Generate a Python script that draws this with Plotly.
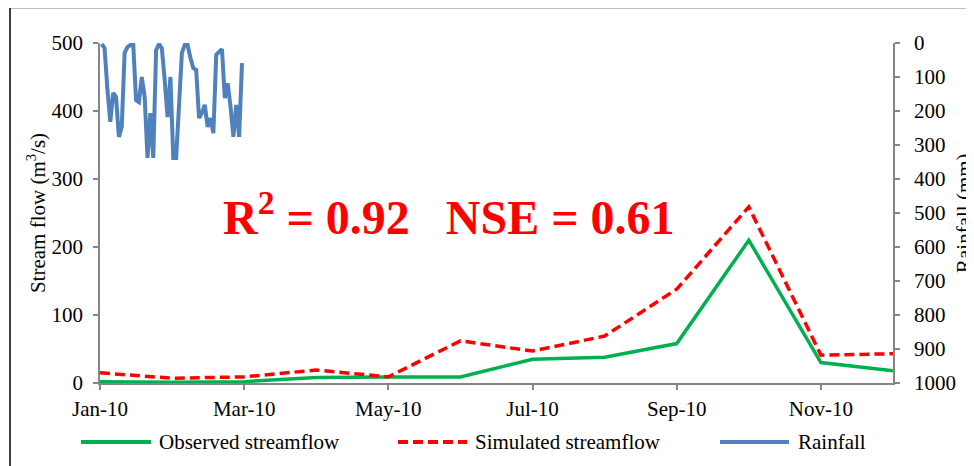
import plotly.graph_objects as go

# ---------------- data ----------------
months = ["Jan-10", "Feb-10", "Mar-10", "Apr-10", "May-10", "Jun-10",
          "Jul-10", "Aug-10", "Sep-10", "Oct-10", "Nov-10", "Dec-10"]
observed = [2, 1, 2, 8, 9, 9, 35, 38, 58, 210, 30, 18]
simulated = [15, 7, 9, 19, 9, 62, 47, 69, 138, 259, 41, 43]

rain_days = list(range(1, 51))
rainfall = [3, 15, 138, 232, 147, 159, 276, 247, 29, 12,
            6, 3, 168, 174, 100, 159, 338, 206, 338, 21,
            3, 15, 109, 218, 100, 338, 338, 176, 29, 6,
            6, 44, 74, 79, 221, 206, 182, 247, 221, 265,
            35, 26, 18, 162, 118, 188, 276, 182, 276, 59]

tick_months = ["Jan-10", "Mar-10", "May-10", "Jul-10", "Sep-10", "Nov-10"]
rain_ticks = [0, 100, 200, 300, 400, 500, 600, 700, 800, 900, 1000]

# ---------------- styling ----------------
FONT = "Liberation Serif"
FS = 21
AX = "#868686"
GREEN = "#00B050"
RED = "#FF0000"
BLUE = "#4F81BD"

month_idx = list(range(len(months)))
tick_idx = [months.index(m) for m in tick_months]

fig = go.Figure()
fig.add_trace(go.Scatter(x=month_idx, y=observed, mode="lines",
                         name="Observed streamflow",
                         line=dict(color=GREEN, width=3.5)))
fig.add_trace(go.Scatter(x=month_idx, y=simulated, mode="lines",
                         name="Simulated streamflow",
                         line=dict(color=RED, width=3.5, dash="10px,5px")))
fig.add_trace(go.Scatter(x=rain_days, y=rainfall, mode="lines",
                         name="Rainfall", xaxis="x2", yaxis="y2",
                         line=dict(color=BLUE, width=4)))

axis_common = dict(showline=True, linecolor=AX, linewidth=1.5,
                   ticks="outside", ticklen=5, tickcolor=AX, tickwidth=1.5,
                   showgrid=False, zeroline=False, automargin=False,
                   tickfont=dict(family=FONT, size=FS, color="black"))

# the page adds an 8px body margin, so the figure is 8px smaller
fig.update_layout(
    width=966, height=458,
    margin=dict(l=92, r=81, t=35, b=83, autoexpand=False),
    paper_bgcolor="white", plot_bgcolor="white",
    showlegend=False,
    font=dict(family=FONT, size=FS, color="black"),
    xaxis=dict(range=[0, 11], tickvals=tick_idx, ticktext=tick_months,
               ticklabelstandoff=1, **axis_common),
    xaxis2=dict(overlaying="x", visible=False, range=[0.4, 277.4]),
    yaxis=dict(range=[0, 500], dtick=100, ticklabelstandoff=6,
               title=dict(text="Stream flow (m<sup>3</sup>/s)", standoff=0,
                          font=dict(family=FONT, size=FS, color="black")),
               **axis_common),
    yaxis2=dict(overlaying="y", side="right", anchor="x", range=[1000, 0],
                tickvals=rain_ticks, showticklabels=False,
                **axis_common),
)

def px_x(p):
    return (p - 100) / 793

def px_y(p):
    return (383 - p) / 340

# right-axis tick labels and title (placed on the y2 scale)
for v in rain_ticks:
    fig.add_annotation(xref="paper", yref="y2", x=px_x(912), y=v,
                       xanchor="left", yanchor="middle", showarrow=False,
                       text=str(v), font=dict(family=FONT, size=FS, color="black"))
fig.add_annotation(xref="paper", yref="paper", x=px_x(964), y=0.5,
                   xanchor="center", yanchor="middle", showarrow=False,
                   textangle=-90, text="Rainfall (mm)",
                   font=dict(family=FONT, size=FS, color="black"))

# statistics annotation
fig.add_annotation(xref="paper", yref="paper", x=0.4407, y=0.497,
                   xanchor="center", yanchor="middle", showarrow=False,
                   text="<b>R<sup>2</sup> = 0.92&nbsp;&nbsp;&nbsp;NSE = 0.61</b>",
                   font=dict(family=FONT, size=48, color=RED))

# custom legend (long line samples like the original)
legend_items = [
    ("Observed streamflow", GREEN, "solid", 81, 151, 157),
    ("Simulated streamflow", RED, "10px,5px", 398, 467, 473),
    ("Rainfall", BLUE, "solid", 720, 789, 796),
]
ly = px_y(442)
for name, col, dash, x0, x1, tx in legend_items:
    fig.add_shape(type="line", xref="paper", yref="paper",
                  x0=px_x(x0), x1=px_x(x1), y0=ly, y1=ly,
                  line=dict(color=col, width=4, dash=dash))
    fig.add_annotation(xref="paper", yref="paper", x=px_x(tx), y=ly,
                       xanchor="left", yanchor="middle", showarrow=False,
                       text=name, font=dict(family=FONT, size=FS, color="black"))

# outer chart border
fig.add_shape(type="rect", xref="paper", yref="paper",
              x0=px_x(10), x1=px_x(1010), y0=px_y(490), y1=px_y(7.5),
              line=dict(color="black", width=1.5), fillcolor="rgba(0,0,0,0)",
              layer="below")

fig.write_html("out.html")
